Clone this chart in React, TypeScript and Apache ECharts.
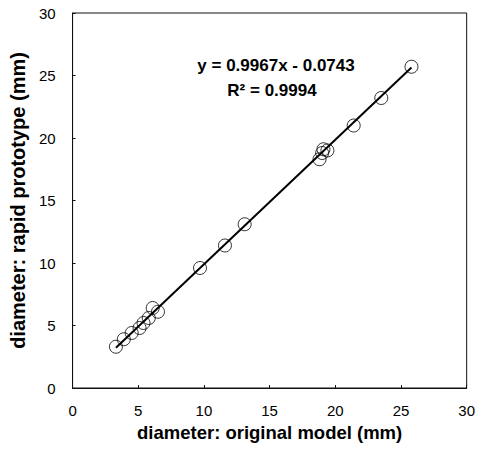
import React, { useEffect, useRef } from "react";
import * as echarts from "echarts";

const originalModel = [3.3, 3.9, 4.5, 5.1, 5.4, 5.8, 6.1, 6.5, 9.7, 11.6, 13.1, 18.8, 19.0, 19.1, 19.4, 21.4, 23.5, 25.8];
const rapidPrototype = [3.3, 3.9, 4.4, 4.8, 5.2, 5.6, 6.4, 6.1, 9.6, 11.4, 13.1, 18.3, 18.8, 19.1, 19.0, 21.0, 23.2, 25.7];
const slope = 0.9967;
const intercept = -0.0743;
const r2 = "0.9994";
const xTitle = "diameter: original model (mm)";
const yTitle = "diameter: rapid prototype (mm)";

export default function App() {
  const ref = useRef<HTMLDivElement>(null);
  useEffect(() => {
    if (!ref.current) return;
    const chart = echarts.init(ref.current, null, { renderer: "svg" });
    const points = originalModel.map((x, i) => [x, rapidPrototype[i]]);
    const xMin = Math.min(...originalModel);
    const xMax = Math.max(...originalModel);
    const fit = [
      [xMin, slope * xMin + intercept],
      [xMax, slope * xMax + intercept],
    ];
    const font = "'Liberation Sans', Arial, sans-serif";
    chart.setOption({
      animation: false,
      backgroundColor: "#fff",
      textStyle: { fontFamily: font },
      grid: {
        left: 68,
        top: 13,
        right: 10,
        bottom: 66,
        show: true,
        borderColor: "#111",
        borderWidth: 1,
      },
      xAxis: {
        type: "value",
        min: 0,
        max: 30,
        interval: 5,
        name: xTitle,
        nameLocation: "middle",
        nameGap: 34,
        nameTextStyle: { fontSize: 18.5, fontWeight: "bold", color: "#000", fontFamily: font },
        axisLine: { show: true, lineStyle: { color: "#111", width: 1 } },
        axisTick: { show: true, inside: true, length: 3, lineStyle: { color: "#111" } },
        axisLabel: { fontSize: 15, color: "#000", margin: 15, fontFamily: font },
        splitLine: { show: false },
      },
      yAxis: {
        type: "value",
        min: 0,
        max: 30,
        interval: 5,
        name: yTitle,
        nameLocation: "middle",
        nameGap: 35,
        nameRotate: 90,
        nameTextStyle: { fontSize: 20, fontWeight: "bold", color: "#000", fontFamily: font },
        axisLine: { show: true, lineStyle: { color: "#111", width: 1 } },
        axisTick: { show: true, inside: true, length: 3, lineStyle: { color: "#111" } },
        axisLabel: { fontSize: 15, color: "#000", margin: 17, fontFamily: font },
        splitLine: { show: false },
      },
      graphic: [
        {
          type: "text",
          x: 276,
          y: 65,
          style: {
            text: `y = ${slope}x - ${Math.abs(intercept)}`,
            fontSize: 17,
            fontWeight: "bold",
            fill: "#000",
            fontFamily: font,
            textAlign: "center",
            textVerticalAlign: "middle",
          },
        },
        {
          type: "text",
          x: 272,
          y: 90,
          style: {
            text: `R² = ${r2}`,
            fontSize: 17,
            fontWeight: "bold",
            fill: "#000",
            fontFamily: font,
            textAlign: "center",
            textVerticalAlign: "middle",
          },
        },
      ],
      series: [
        {
          type: "line",
          data: fit,
          symbol: "none",
          lineStyle: { color: "#000", width: 2 },
          z: 1,
        },
        {
          type: "scatter",
          data: points,
          symbol: "circle",
          symbolSize: 13,
          itemStyle: { color: "rgba(255,255,255,0)", borderColor: "#000", borderWidth: 1 },
          z: 2,
        },
      ],
    });
    return () => chart.dispose();
  }, []);
  return (
    <div
      ref={ref}
      style={{ position: "absolute", left: 0, top: 0, width: 478, height: 454 }}
    />
  );
}
